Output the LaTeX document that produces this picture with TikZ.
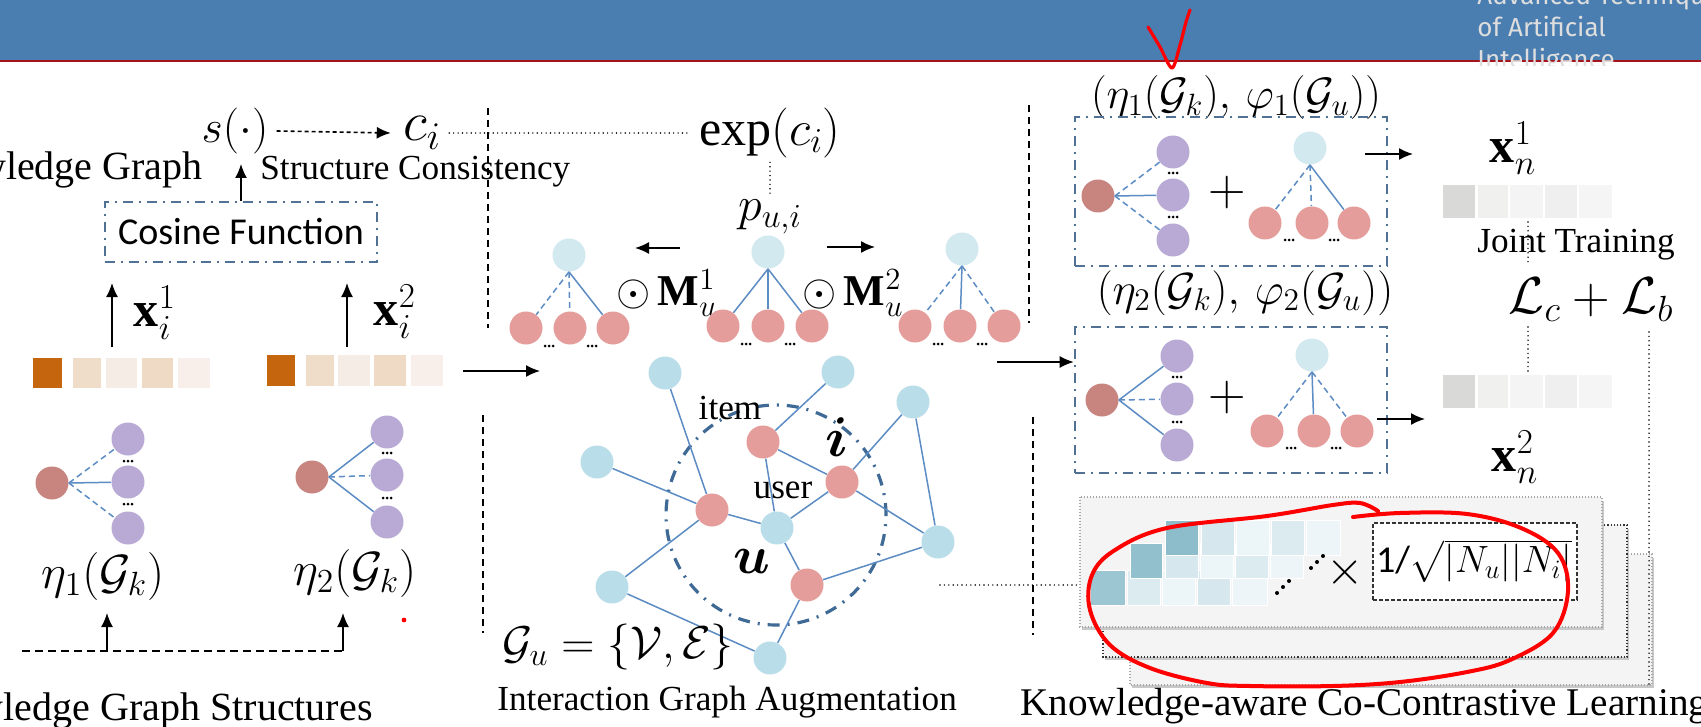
\RequirePackage{fix-cm}
\documentclass[tikz,border=0pt]{standalone}
\usepackage{amsmath}
\usepackage{fontspec}
\setmainfont{Liberation Serif}
\newfontfamily\calib{Carlito}
\newfontfamily\dinf{Fira Sans}
\usetikzlibrary{arrows.meta}
\definecolor{bandblue}{RGB}{74,126,177}
\definecolor{bandred}{RGB}{165,20,28}
\definecolor{hdrtxt}{RGB}{222,222,222}
\definecolor{nblue}{RGB}{186,222,233}
\definecolor{nbluel}{RGB}{210,233,240}
\definecolor{nred}{RGB}{229,157,155}
\definecolor{nbrown}{RGB}{200,133,128}
\definecolor{npurple}{RGB}{184,170,212}
\definecolor{edgeblue}{RGB}{92,140,195}
\definecolor{boxblue}{RGB}{80,112,148}
\definecolor{circblue}{RGB}{64,106,150}
\definecolor{or0}{RGB}{197,102,15}
\definecolor{or1}{RGB}{239,220,201}
\definecolor{or2}{RGB}{246,236,230}
\definecolor{or3}{RGB}{238,218,197}
\definecolor{or4}{RGB}{248,239,235}
\definecolor{gr0}{RGB}{217,217,215}
\definecolor{gr1}{RGB}{240,240,239}
\definecolor{gr2}{RGB}{244,244,244}
\definecolor{gr3}{RGB}{239,239,239}
\definecolor{gr4}{RGB}{245,245,245}
\definecolor{panel}{RGB}{244,244,244}
\definecolor{shadow}{RGB}{200,200,200}
\definecolor{mA}{RGB}{141,188,202}
\definecolor{mB}{RGB}{147,192,205}
\definecolor{mC}{RGB}{156,198,210}
\definecolor{ml1}{RGB}{214,232,238}
\definecolor{ml2}{RGB}{236,245,247}
\definecolor{ml3}{RGB}{220,235,240}
\definecolor{ml4}{RGB}{238,245,248}
\tikzset{
 nd/.style={circle, inner sep=0pt, minimum size=16.5pt},
 lb/.style={nd, fill=nblue},
 lbl/.style={nd, fill=nbluel},
 rd/.style={nd, fill=nred},
 br/.style={nd, fill=nbrown},
 pu/.style={nd, fill=npurple},
 ed/.style={draw=edgeblue, line width=0.75pt},
 edd/.style={ed, dash pattern=on 3pt off 2pt},
 ddbox/.style={draw=boxblue, line width=1.3pt, dash pattern=on 5pt off 3pt on 1pt off 3pt},
 vdash/.style={draw=black, line width=1.1pt, dash pattern=on 3.5pt off 2.5pt},
 dotl/.style={draw=black, line width=0.8pt, dash pattern=on 0pt off 2.2pt, line cap=round},
 arr/.style={draw=black, line width=0.8pt, -{Latex[length=7pt,width=6pt]}},
 tx/.style={inner sep=0pt, font=\fontsize{17.6}{21}\selectfont},
 txl/.style={inner sep=0pt, font=\fontsize{20}{23}\selectfont},
 mt/.style={inner sep=0pt, font=\fontsize{24}{28}\selectfont},
 sq/.style={draw=white, line width=0.5pt},
 layer/.style={fill=panel, draw=gray!70, dash pattern=on 0.5pt off 1pt, line width=0.6pt},
}
\newcommand{\mydots}[2]{\fill (#1,#2) ++(-4,0) circle[radius=0.75pt] ++(4,0) circle[radius=0.75pt] ++(4,0) circle[radius=0.75pt];}
\begin{document}
\begin{tikzpicture}[x=0.5pt,y=-0.5pt]
\useasboundingbox (0,0) rectangle (1701,727);
\clip (0,0) rectangle (1701,727);
\fill[white] (0,0) rectangle (1701,727);
% ---------- header ----------
\fill[bandblue] (0,0) rectangle (1701,60);
\draw[bandred, line width=1.2pt] (0,61) -- (1701,61);
\begin{scope}
\clip (1450,0) rectangle (1701,66);
\node[anchor=base west, inner sep=0, text=hdrtxt, font=\dinf\fontsize{13}{15}\selectfont] (h1) at (1477,5) {Advanced Technique};
\node[anchor=base west, inner sep=0, text=hdrtxt, font=\dinf\fontsize{13}{15}\selectfont] (h2) at (1477,37) {of Artificial};
\node[anchor=base west, inner sep=0, text=hdrtxt, font=\dinf\fontsize{13}{15}\selectfont] (h3) at (1477,69) {Intelligence};
\end{scope}
\draw[red, line width=1.6pt, line cap=round, line join=round] plot[smooth] coordinates {(1148,27) (1160,47) (1172,68) (1180,45) (1186,22) (1190,10)};
% ---------- left part ----------
\node[mt, font=\fontsize{23}{26}\selectfont] (s) at (235,131) {$s(\cdot)$};
\node[mt, font=\fontsize{28}{30}\selectfont] (ci) at (422,133) {$c_i$};
\draw[arr, dash pattern=on 2pt off 1.5pt] ([xshift=4pt]s.east) -- ([xshift=-6pt]ci.west);
\node[txl, anchor=base east] (kg) at (203,180) {Knowledge Graph};
\node[tx, anchor=base west] (sc) at (260,180) {Structure Consistency};
\node[ddbox, minimum width=136pt, minimum height=30pt, inner sep=0pt, font=\calib\fontsize{19}{22}\selectfont] (cos) at (241,232) {Cosine Function};
\coordinate (sarr) at (241,164);
\draw[arr] (cos.north) -- (sarr);
% bars
\fill[or0] (33,358) rectangle (62,388);
\fill[or1] (73,358) rectangle (101,388);
\fill[or2] (106,358) rectangle (137,388);
\fill[or3] (142,358) rectangle (173,388);
\fill[or4] (178,358) rectangle (210,388);
\fill[or0] (267,355) rectangle (295,386);
\fill[or1] (306,355) rectangle (334,386);
\fill[or2] (338,355) rectangle (370,386);
\fill[or3] (374,355) rectangle (406,386);
\fill[or4] (411,355) rectangle (443,386);
\coordinate (xa1) at (112,347); \coordinate (xa1t) at (112,283);
\coordinate (xa2) at (347,347); \coordinate (xa2t) at (347,283);
\draw[arr] (xa1) -- (xa1t);
\draw[arr] (xa2) -- (xa2t);
\node[mt, font=\fontsize{25}{28}\selectfont] (x1) at (155,313) {$\mathbf{x}_i^1$};
\node[mt, font=\fontsize{25}{28}\selectfont] (x2) at (395,312) {$\mathbf{x}_i^2$};
% graph 1
\node[br] (g1c) at (52,483) {};
\node[pu] (g1a) at (128,439) {};
\node[pu] (g1b) at (128,482) {};
\node[pu] (g1d) at (128,528) {};
\draw[edd] (g1c.east) -- (g1a);
\draw[ed] (g1c.east) -- (g1b);
\draw[edd] (g1c.east) -- (g1d);
\mydots{128}{461} \mydots{128}{504}
% graph 2
\node[br] (g2c) at (312,477) {};
\node[pu] (g2a) at (387,432) {};
\node[pu] (g2b) at (387,475) {};
\node[pu] (g2d) at (387,522) {};
\draw[ed] (g2c.east) -- (g2a);
\draw[edd] (g2c.east) -- (g2b);
\draw[ed] (g2c.east) -- (g2d);
\mydots{387}{453} \mydots{387}{498}
\node[mt] (e1) at (103,576) {$\eta_1(\mathcal{G}_k)$};
\node[mt] (e2) at (355,573) {$\eta_2(\mathcal{G}_k)$};
\coordinate (d0) at (22,651); \coordinate (d1) at (107,651); \coordinate (d2) at (343,651);
\coordinate (d1t) at (107,613); \coordinate (d2t) at (343,613);
\draw[black, line width=0.8pt, dash pattern=on 4pt off 2.5pt] (d0) -- (d2);
\draw[arr] (d1) -- (d1t);
\draw[arr] (d2) -- (d2t);
\fill[red] (404,620) circle[radius=1.2pt];
\node[txl, anchor=base east] (kgs) at (373,720) {Knowledge Graph Structures};
% ---------- middle ----------
\coordinate (v1a) at (488,108); \coordinate (v1b) at (488,328);
\draw[vdash] (v1a) -- (v1b);
\coordinate (v2a) at (483,415); \coordinate (v2b) at (483,633);
\draw[vdash] (v2a) -- (v2b);
\node[mt, font=\fontsize{25}{28}\selectfont] (exp) at (770,133) {$\exp(c_i)$};
\draw[dotl] ([xshift=4pt]ci.east) -- ([xshift=-4pt]exp.west);
\node[mt] (p) at (770,217) {$p_{u,i}$};
\draw[dotl] ([yshift=-2pt]exp.south) -- ([yshift=2pt]p.north);
\coordinate (la0) at (680,248); \coordinate (la1) at (635,248);
\coordinate (ra0) at (827,247); \coordinate (ra1) at (875,247);
\draw[arr] (la0) -- (la1);
\draw[arr] (ra0) -- (ra1);
\node[mt, font=\fontsize{22}{26}\selectfont] (m1) at (667,293) {$\odot\,\mathbf{M}_u^1$};
\node[mt, font=\fontsize{22}{26}\selectfont] (m2) at (853,293) {$\odot\,\mathbf{M}_u^2$};
% tree L
\node[lbl] (tlt) at (569,255) {};
\node[rd] (tl1) at (526,328) {};
\node[rd] (tl2) at (570,328) {};
\node[rd] (tl3) at (613,328) {};
\draw[edd] (tlt.south) -- (tl1);
\draw[edd] (tlt.south) -- (tl2);
\draw[ed] (tlt.south) -- (tl3);
\mydots{549}{346} \mydots{592}{346}
% tree M
\node[lbl] (tmt) at (768,252) {};
\node[rd] (tm1) at (723,326) {};
\node[rd] (tm2) at (768,326) {};
\node[rd] (tm3) at (812,326) {};
\draw[ed] (tmt.south) -- (tm1);
\draw[ed] (tmt.south) -- (tm2);
\draw[ed] (tmt.south) -- (tm3);
\mydots{746}{344} \mydots{790}{344}
% tree R
\node[lbl] (trt) at (962,249) {};
\node[rd] (tr1) at (915,326) {};
\node[rd] (tr2) at (960,326) {};
\node[rd] (tr3) at (1004,326) {};
\draw[edd] (trt.south) -- (tr1);
\draw[ed] (trt.south) -- (tr2);
\draw[edd] (trt.south) -- (tr3);
\mydots{938}{344} \mydots{982}{344}
% arrow into interaction graph
\coordinate (ia0) at (463,371); \coordinate (ia1) at (540,371);
\draw[arr] (ia0) -- (ia1);
% interaction graph
\draw[circblue, line width=1.6pt, dash pattern=on 6pt off 4pt on 1pt off 4pt] (776,515) circle[radius=55pt];
\node[lb] (b1) at (665,373) {};
\node[lb] (b2) at (838,372) {};
\node[lb] (b3) at (913,402) {};
\node[lb] (b4) at (597,462) {};
\node[lb] (b5) at (777,528) {};
\node[lb] (b6) at (938,542) {};
\node[lb] (b7) at (612,587) {};
\node[lb] (b8) at (770,658) {};
\node[rd] (r1) at (763,442) {};
\node[rd] (r2) at (842,482) {};
\node[rd] (r3) at (712,510) {};
\node[rd] (r4) at (807,585) {};
\draw[ed] (b1) -- (r3);
\draw[ed] (b2) -- (r1);
\draw[ed] (b3) -- (r2);
\draw[ed] (b3) -- (b6);
\draw[ed] (b4) -- (r3);
\draw[ed] (r3) -- (b5);
\draw[ed] (r3) -- (b7);
\draw[ed] (r1) -- (r2);
\draw[ed] (r1) -- (b5);
\draw[ed] (b5) -- (r2);
\draw[ed] (r2) -- (b6);
\draw[ed] (b5) -- (r4);
\draw[ed] (r4) -- (b6);
\draw[ed] (r4) -- (b8);
\draw[ed] (b7) -- (b8);
\node[tx] (item) at (730,408) {item};
\node[tx] (user) at (783,490) {user};
\node[mt, font=\fontsize{28}{30}\selectfont] (il) at (837,437) {$\boldsymbol{i}$};
\node[mt, font=\fontsize{27}{30}\selectfont] (ul) at (752,561) {$\boldsymbol{u}$};
\node[mt, font=\fontsize{23}{26}\selectfont] (gu) at (618,647) {$\mathcal{G}_u=\{\mathcal{V},\mathcal{E}\}$};
\node[tx, anchor=base west] (iga) at (497,710) {Interaction Graph Augmentation};
% ---------- right ----------
\coordinate (v3a) at (1029,105); \coordinate (v3b) at (1029,323);
\draw[vdash] (v3a) -- (v3b);
\coordinate (v4a) at (1033,417); \coordinate (v4b) at (1033,635);
\draw[vdash] (v4a) -- (v4b);
\coordinate (ha0) at (940,585); \coordinate (ha1) at (1080,585);
\draw[dotl] (ha0) -- (ha1);
\node[mt, font=\fontsize{22}{25}\selectfont] (lab1) at (1236,98) {$(\eta_1(\mathcal{G}_k),\,\varphi_1(\mathcal{G}_u))$};
\node[mt, font=\fontsize{22.5}{25}\selectfont] (lab2) at (1245,293) {$(\eta_2(\mathcal{G}_k),\,\varphi_2(\mathcal{G}_u))$};
\node[ddbox, minimum width=156pt, minimum height=74.5pt] (box1) at (1231,191.5) {};
\node[ddbox, minimum width=156pt, minimum height=73pt] (box2) at (1231,400) {};
% box1 content
\node[br] (k1c) at (1098,196) {};
\node[pu] (k1a) at (1173,152) {};
\node[pu] (k1b) at (1173,195) {};
\node[pu] (k1d) at (1173,240) {};
\draw[edd] (k1c.east) -- (k1a);
\draw[ed] (k1c.east) -- (k1b);
\draw[edd] (k1c.east) -- (k1d);
\mydots{1173}{173} \mydots{1173}{217}
\node[inner sep=0, font=\fontsize{26}{28}\selectfont] (pl1) at (1227,193) {$+$};
\node[lbl] (u1t) at (1310,148) {};
\node[rd] (u1a) at (1265,223) {};
\node[rd] (u1b) at (1312,223) {};
\node[rd] (u1c) at (1354,223) {};
\draw[edd] (u1t.south) -- (u1a);
\draw[edd] (u1t.south) -- (u1b);
\draw[ed] (u1t.south) -- (u1c);
\mydots{1289}{240} \mydots{1334}{240}
% box2 content
\node[br] (k2c) at (1102,400) {};
\node[pu] (k2a) at (1177,356) {};
\node[pu] (k2b) at (1177,399) {};
\node[pu] (k2d) at (1177,445) {};
\draw[ed] (k2c.east) -- (k2a);
\draw[edd] (k2c.east) -- (k2b);
\draw[ed] (k2c.east) -- (k2d);
\mydots{1177}{377} \mydots{1177}{422}
\node[inner sep=0, font=\fontsize{26}{28}\selectfont] (pl2) at (1227,397) {$+$};
\node[lbl] (u2t) at (1312,355) {};
\node[rd] (u2a) at (1267,431) {};
\node[rd] (u2b) at (1314,431) {};
\node[rd] (u2c) at (1357,431) {};
\draw[edd] (u2t.south) -- (u2a);
\draw[ed] (u2t.south) -- (u2b);
\draw[edd] (u2t.south) -- (u2c);
\mydots{1291}{448} \mydots{1336}{448}
\coordinate (ba0) at (997,362);
\draw[arr] (ba0) -- (box2.west |- ba0);
\coordinate (o1a) at (1365,154); \coordinate (o1b) at (1413,154);
\coordinate (o2a) at (1377,419); \coordinate (o2b) at (1425,419);
\draw[arr] (o1a) -- (o1b);
\draw[arr] (o2a) -- (o2b);
\node[mt, font=\fontsize{25}{28}\selectfont] (xn1) at (1513,148) {$\mathbf{x}_n^1$};
\node[mt, font=\fontsize{25}{28}\selectfont] (xn2) at (1515,457) {$\mathbf{x}_n^2$};
% gray bars
\foreach \yy in {185,375}{
 \fill[gr0] (1443,\yy) rectangle (1475,\yy+33);
 \fill[gr1] (1478,\yy) rectangle (1508,\yy+33);
 \fill[gr2] (1510,\yy) rectangle (1543,\yy+33);
 \fill[gr3] (1545,\yy) rectangle (1577,\yy+33);
 \fill[gr4] (1579,\yy) rectangle (1612,\yy+33);
}
\coordinate (j0) at (1528,222); \coordinate (j1) at (1528,262);
\coordinate (j2) at (1528,327); \coordinate (j3) at (1528,372);
\draw[dotl] (j0) -- (j1);
\draw[dotl] (j2) -- (j3);
\node[tx, anchor=base west] (jt) at (1477,253) {Joint Training};
\node[mt, font=\fontsize{26}{28}\selectfont] (loss) at (1591,300) {$\mathcal{L}_c+\mathcal{L}_b$};
% panels
\fill[shadow] (1132,558) rectangle (1654,688);
\path[layer] (1130,554) rectangle (1652,685);
\fill[shadow] (1105,529) rectangle (1629,660);
\path[layer, draw=black!80, dash pattern=on 0.6pt off 1pt, line width=0.7pt] (1103,525) rectangle (1627,657);
\fill[shadow] (1082,501) rectangle (1604,630);
\path[layer] (1080,497) rectangle (1602,627);
\coordinate (lb0) at (1649,332); \coordinate (lb1) at (1649,685);
\draw[dotl] (lb0) -- (lb1);
% matrix rows C, B, A
\filldraw[fill=mC, sq] (1090,570) rectangle (1125,605);
\filldraw[fill=ml3, sq] (1127,570) rectangle (1160,605);
\filldraw[fill=ml2, sq] (1162,570) rectangle (1195,605);
\filldraw[fill=ml1, sq] (1197,570) rectangle (1230,605);
\filldraw[fill=ml4, sq] (1232,570) rectangle (1267,605);
\filldraw[fill=mB, sq] (1130,543) rectangle (1162,578);
\filldraw[fill=ml1, sq] (1165,543) rectangle (1198,578);
\filldraw[fill=ml2, sq] (1200,543) rectangle (1233,578);
\filldraw[fill=ml3, sq] (1235,543) rectangle (1268,578);
\filldraw[fill=ml4, sq] (1270,543) rectangle (1303,578);
\filldraw[fill=mA, sq] (1165,520) rectangle (1198,555);
\filldraw[fill=ml1, sq] (1201,520) rectangle (1234,555);
\filldraw[fill=ml2, sq] (1236,520) rectangle (1269,555);
\filldraw[fill=ml3, sq] (1271,520) rectangle (1304,555);
\filldraw[fill=ml4, sq] (1306,520) rectangle (1340,555);
\filldraw[fill=mC, sq] (1090,570) rectangle (1125,605);
\foreach \p in {(1277,593),(1283,587),(1289,581),(1311,568),(1317,562),(1323,556)} \fill \p circle[radius=1pt];
\node[inner sep=0, font=\fontsize{24}{26}\selectfont] (times) at (1345,572) {$\times$};
\node[draw=black!80, fill=white, dash pattern=on 2pt off 1pt, line width=0.7pt, minimum width=102pt, minimum height=38.5pt, inner sep=0pt] (fbox) at (1475,561.5) {};
\node[inner sep=0, font=\fontsize{19}{22}\selectfont] (form) at (1474,561) {{\calib 1/}$\sqrt{|N_u||N_i|}$};
\node[tx, anchor=base west, font=\fontsize{19.6}{23}\selectfont] (kcl) at (1020,715) {Knowledge-aware Co-Contrastive Learning};
% red annotation
\draw[red, line width=2pt, line cap=round, line join=round] plot[smooth, tension=0.6] coordinates {(1353,517) (1400,513) (1467,514) (1521,528) (1558,553) (1568,591) (1553,633) (1510,660) (1467,672) (1400,682) (1333,686) (1250,686) (1207,683) (1150,668) (1110,645) (1090,610) (1092,575) (1115,550) (1167,528) (1267,516) (1333,505) (1360,503) (1378,511)};
\end{tikzpicture}
\end{document}
